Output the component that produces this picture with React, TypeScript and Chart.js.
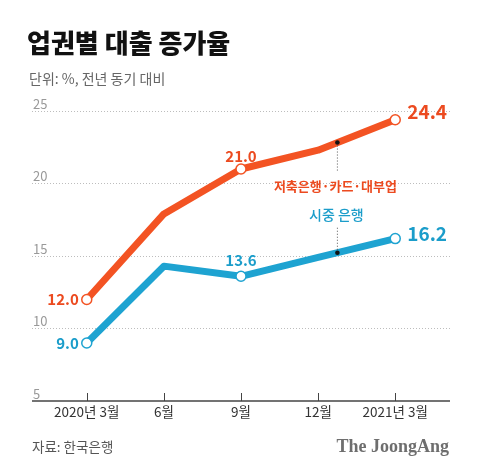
import React, { useEffect, useRef } from "react";
import { Chart, registerables } from "chart.js";

Chart.register(...registerables);

const categories = ["2020년 3월", "6월", "9월", "12월", "2021년 3월"];
const savingsCard = [12.0, 17.9, 21.0, 22.3, 24.4];
const commercial = [9.0, 14.3, 13.6, 14.9, 16.2];
const labeledIdx = [0, 2, 4];
const yTicks = [5, 10, 15, 20, 25];
const seriesNames = ["저축은행·카드·대부업", "시중 은행"];
const title = "업권별 대출 증가율";
const subtitle = "단위: %, 전년 동기 대비";
const source = "자료: 한국은행";
const brand = "The JoongAng";
const annotX = 3.25;

const ORANGE = "#f35323";
const ORANGE_T = "#ec4a1f";
const BLUE = "#1ea3d1";
const BLUE_T = "#1b9dca";
const KR = '"Noto Sans CJK KR", "Noto Sans", sans-serif';

const fmt = (v: number) => v.toFixed(1);

const overlay = {
  id: "overlay",
  afterDraw(chart: any) {
    const ctx = chart.ctx;
    const xs = chart.scales.x;
    const ys = chart.scales.y;
    const area = chart.chartArea;
    ctx.save();
    // title
    ctx.textBaseline = "middle";
    ctx.textAlign = "left";
    ctx.fillStyle = "#111";
    ctx.font = `900 26px ${KR}`;
    ctx.fillText(title, 27, 43);
    ctx.fillStyle = "#666";
    ctx.font = `400 14px ${KR}`;
    ctx.fillText(subtitle, 29, 79);
    // footer
    ctx.fillStyle = "#555";
    ctx.font = `400 13.5px ${KR}`;
    ctx.fillText(source, 32, 447);
    ctx.textAlign = "right";
    ctx.fillStyle = "#6e6e6e";
    ctx.font = `700 18px "Liberation Serif", "DejaVu Serif", serif`;
    ctx.fillText(brand, 449, 447);

    // x axis line and ticks
    const yBase = ys.getPixelForValue(ys.min);
    ctx.strokeStyle = "#444";
    ctx.lineWidth = 1.5;
    ctx.beginPath();
    ctx.moveTo(area.left, yBase);
    ctx.lineTo(area.right, yBase);
    ctx.stroke();
    ctx.lineWidth = 1;
    categories.forEach((_, i) => {
      const px = Math.round(xs.getPixelForValue(i)) + 0.5;
      ctx.beginPath();
      ctx.moveTo(px, yBase);
      ctx.lineTo(px, yBase - 8);
      ctx.stroke();
    });

    // value labels
    const metas = [chart.getDatasetMeta(0), chart.getDatasetMeta(1)];
    const colors = [ORANGE_T, BLUE_T];
    const data = [savingsCard, commercial];
    metas.forEach((meta: any, d: number) => {
      ctx.fillStyle = colors[d];
      labeledIdx.forEach((i) => {
        const pt = meta.data[i];
        const txt = fmt(data[d][i]);
        if (i === 0) {
          ctx.font = `700 15px ${KR}`;
          ctx.textAlign = "right";
          ctx.fillText(txt, pt.x - 8, pt.y);
        } else if (i === categories.length - 1) {
          ctx.font = `700 19px ${KR}`;
          ctx.textAlign = "left";
          ctx.fillText(txt, pt.x + 12, pt.y - (d === 0 ? 8 : 5));
        } else {
          ctx.font = `700 15px ${KR}`;
          ctx.textAlign = "center";
          ctx.fillText(txt, pt.x, pt.y - (d === 0 ? 13 : 16));
        }
      });
    });

    // annotations
    const ax = xs.getPixelForValue(annotX);
    const interp = (arr: number[]) => arr[3] + (arr[4] - arr[3]) * (annotX - 3);
    const oy = ys.getPixelForValue(interp(savingsCard));
    const by = ys.getPixelForValue(interp(commercial));
    ctx.strokeStyle = "#555";
    ctx.lineWidth = 1;
    ctx.setLineDash([1, 2]);
    ctx.beginPath();
    ctx.moveTo(ax, oy);
    ctx.lineTo(ax, oy + 28);
    ctx.moveTo(ax, by);
    ctx.lineTo(ax, by - 27);
    ctx.stroke();
    ctx.setLineDash([]);
    ctx.fillStyle = "#111";
    [oy, by].forEach((y) => {
      ctx.beginPath();
      ctx.arc(ax, y, 2.3, 0, Math.PI * 2);
      ctx.fill();
    });
    ctx.textAlign = "center";
    ctx.font = `700 13px ${KR}`;
    ctx.fillStyle = ORANGE_T;
    ctx.fillText(seriesNames[0], ax - 2, oy + 44);
    ctx.fillStyle = BLUE_T;
    ctx.font = `500 14px ${KR}`;
    ctx.fillText(seriesNames[1], ax - 1, by - 38);
    ctx.restore();
  },
};

export default function App() {
  const ref = useRef<HTMLCanvasElement>(null);
  useEffect(() => {
    if (!ref.current) return;
    const radii = categories.map((_, i) => (labeledIdx.includes(i) ? 5 : 0));
    const chart = new Chart(ref.current, {
      type: "line",
      data: {
        datasets: [
          {
            label: seriesNames[0],
            data: savingsCard.map((v, i) => ({ x: i, y: v })),
            borderColor: ORANGE,
            borderWidth: 7,
            borderJoinStyle: "round",
            pointRadius: radii,
            pointBackgroundColor: "#fff",
            pointBorderColor: ORANGE,
            pointBorderWidth: 1.5,
            tension: 0,
          },
          {
            label: seriesNames[1],
            data: commercial.map((v, i) => ({ x: i, y: v })),
            borderColor: BLUE,
            borderWidth: 7,
            borderJoinStyle: "round",
            pointRadius: radii,
            pointBackgroundColor: "#fff",
            pointBorderColor: BLUE,
            pointBorderWidth: 1.5,
            tension: 0,
          },
        ],
      },
      options: {
        responsive: false,
        animation: false,
        events: [],
        layout: { padding: { left: 32, right: 30, top: 111, bottom: 0 }, autoPadding: false },
        plugins: { legend: { display: false }, title: { display: false }, tooltip: { enabled: false } },
        scales: {
          x: {
            type: "linear",
            min: -0.71,
            max: 4.71,
            afterBuildTicks: (s: any) => {
              s.ticks = categories.map((_, i) => ({ value: i }));
            },
            afterFit: (s: any) => {
              s.height = 73;
            },
            grid: { display: false, drawTicks: false },
            border: { display: false },
            ticks: {
              autoSkip: false,
              maxRotation: 0,
              padding: 3,
              color: "#333",
              font: { family: KR, size: 13.5 },
              callback: (v: any) => categories[v as number] ?? "",
            },
          },
          y: {
            min: 5,
            max: 25,
            afterBuildTicks: (s: any) => {
              s.ticks = yTicks.map((v) => ({ value: v }));
            },
            afterFit: (s: any) => {
              s.width = 0;
            },
            border: { display: false, dash: [1, 2] },
            grid: {
              drawTicks: false,
              color: (c: any) => (c.tick && c.tick.value === 5 ? "rgba(0,0,0,0)" : "#bdbdbd"),
              lineWidth: 1,
            },
            ticks: {
              mirror: true,
              padding: 1,
              labelOffset: -7,
              color: "#999",
              font: { family: KR, size: 13 },
            },
          },
        },
      },
      plugins: [overlay],
    } as any);
    return () => chart.destroy();
  }, []);
  return (
    <div style={{ position: "fixed", left: 0, top: 0, width: 480, height: 474, background: "#fff" }}>
      <canvas ref={ref} width={480} height={474} />
    </div>
  );
}
